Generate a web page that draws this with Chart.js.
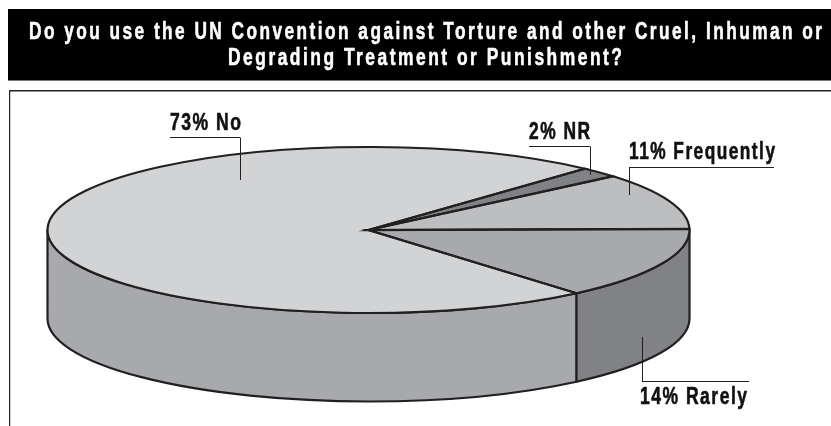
<!DOCTYPE html>
<html><head><meta charset="utf-8">
<style>html,body{margin:0;padding:0;background:#fff}canvas{display:block}</style>
<script src="https://cdn.jsdelivr.net/npm/chart.js@4"></script>
</head><body><canvas id="c" width="831" height="426"></canvas>
<script>
const categories = ["No", "NR", "Frequently", "Rarely"];
const values = [73, 2, 11, 14];
const topColors = ["#d1d3d4", "#808285", "#bcbec0", "#a7a9ac"];
const wallColors = ["#a7a9ac", "#808285", "#a7a9ac", "#808285"];
const titleLines = ["Do you use the UN Convention against Torture and other Cruel, Inhuman or", "Degrading Treatment or Punishment?"];
const INK = "#231f20";
const FONT = '"Liberation Sans",Arial,sans-serif';
const pie3d = {cx:368.5, cy:230, rx:321, ry:83, depth:88.5};
// [text x0, text x1, baseline, underline y, underline x0, x1, stem x, stem end y]
const leaders = [
  [170,241,130,137.5,170,240,240,180],
  [529,590,139,146.5,529,590,590,175],
  [629,775,159,167.5,629,774,629,195],
  [640,747,404,381.5,642,749,642,337]
];
// [text x0, text x1, baseline]
const titleBoxes = [[29,822,39],[228,622,65]];

function fitText(c, text, x0, x1, base, size, spacing, color, heavy){
  c.save();
  c.font = 'bold '+size+'px '+FONT;
  c.letterSpacing = spacing+'px';
  c.textAlign = 'left'; c.textBaseline = 'alphabetic';
  const w = c.measureText(text).width - spacing;
  c.translate(x0, base); c.scale((x1-x0)/w, 1);
  c.fillStyle = color; c.fillText(text, 0, 0);
  if (heavy){ c.strokeStyle = color; c.lineWidth = heavy; c.lineJoin='round'; c.strokeText(text, 0, 0); }
  c.restore();
}

const plugin3d = {
  id:'pie3d',
  beforeDraw(chart){
    const c = chart.ctx;
    c.save();
    c.fillStyle = "#fff"; c.fillRect(0,0,831,426);
    c.fillStyle = "#000"; c.fillRect(8,9,823,71);
    c.fillStyle = "#777"; c.fillRect(8,80,823,1);
    c.fillStyle = INK;
    c.fillRect(9,90,822,1.5);
    c.fillRect(9,90,1.2,336);
    c.restore();
    titleLines.forEach((t,i)=>{
      const b = titleBoxes[i];
      fitText(c, t, b[0], b[1], b[2], 24.5, 3.5, "#fff", 0.6);
    });
  },
  beforeDatasetsDraw(chart){
    const c = chart.ctx, p = pie3d, arcs = chart.getDatasetMeta(0).data;
    // side walls from the arc elements' own angles
    arcs.forEach((a,i)=>{
      for (let k=-1;k<=1;k++){
        const s = Math.max(a.startAngle + k*2*Math.PI, 0), e = Math.min(a.endAngle + k*2*Math.PI, Math.PI);
        if (e <= s) continue;
        c.save();
        c.beginPath();
        c.ellipse(p.cx,p.cy,p.rx,p.ry,0,s,e);
        c.ellipse(p.cx,p.cy+p.depth,p.rx,p.ry,0,e,s,true);
        c.closePath();
        c.fillStyle = wallColors[i]; c.fill();
        c.strokeStyle = INK; c.lineWidth = 2.2; c.lineJoin='round'; c.stroke();
        c.restore();
      }
    });
    const a0 = arcs[0];
    c.save();
    c.translate(p.cx,p.cy); c.scale(p.rx/a0.outerRadius,p.ry/a0.outerRadius); c.translate(-a0.x,-a0.y);
  },
  afterDatasetsDraw(chart){
    const c = chart.ctx, p = pie3d, arcs = chart.getDatasetMeta(0).data;
    c.restore();
    arcs.forEach(a=>{
      c.save();
      c.beginPath();
      c.moveTo(p.cx,p.cy);
      c.ellipse(p.cx,p.cy,p.rx,p.ry,0,a.startAngle,a.endAngle);
      c.closePath();
      c.strokeStyle = INK; c.lineWidth = 2.2; c.lineJoin='miter'; c.stroke();
      c.restore();
    });
    c.save();
    c.strokeStyle = INK; c.lineWidth = 1;
    leaders.forEach((l,i)=>{
      c.beginPath();
      c.moveTo(l[4],l[3]); c.lineTo(l[5],l[3]);
      c.moveTo(l[6]+.5,l[3]); c.lineTo(l[6]+.5,l[7]);
      c.stroke();
      fitText(c, values[i]+"% "+categories[i], l[0], l[1], l[2], 23.5, 2, "#111", 0.6);
    });
    c.restore();
  }
};

new Chart(document.getElementById('c'),{
  type:'pie',
  data:{labels:categories,datasets:[{data:values,backgroundColor:topColors,borderWidth:0}]},
  options:{
    responsive:false,animation:false,
    rotation:139.6,
    plugins:{legend:{display:false},tooltip:{enabled:false},title:{display:false,text:titleLines}}
  },
  plugins:[plugin3d]
});
</script></body></html>
